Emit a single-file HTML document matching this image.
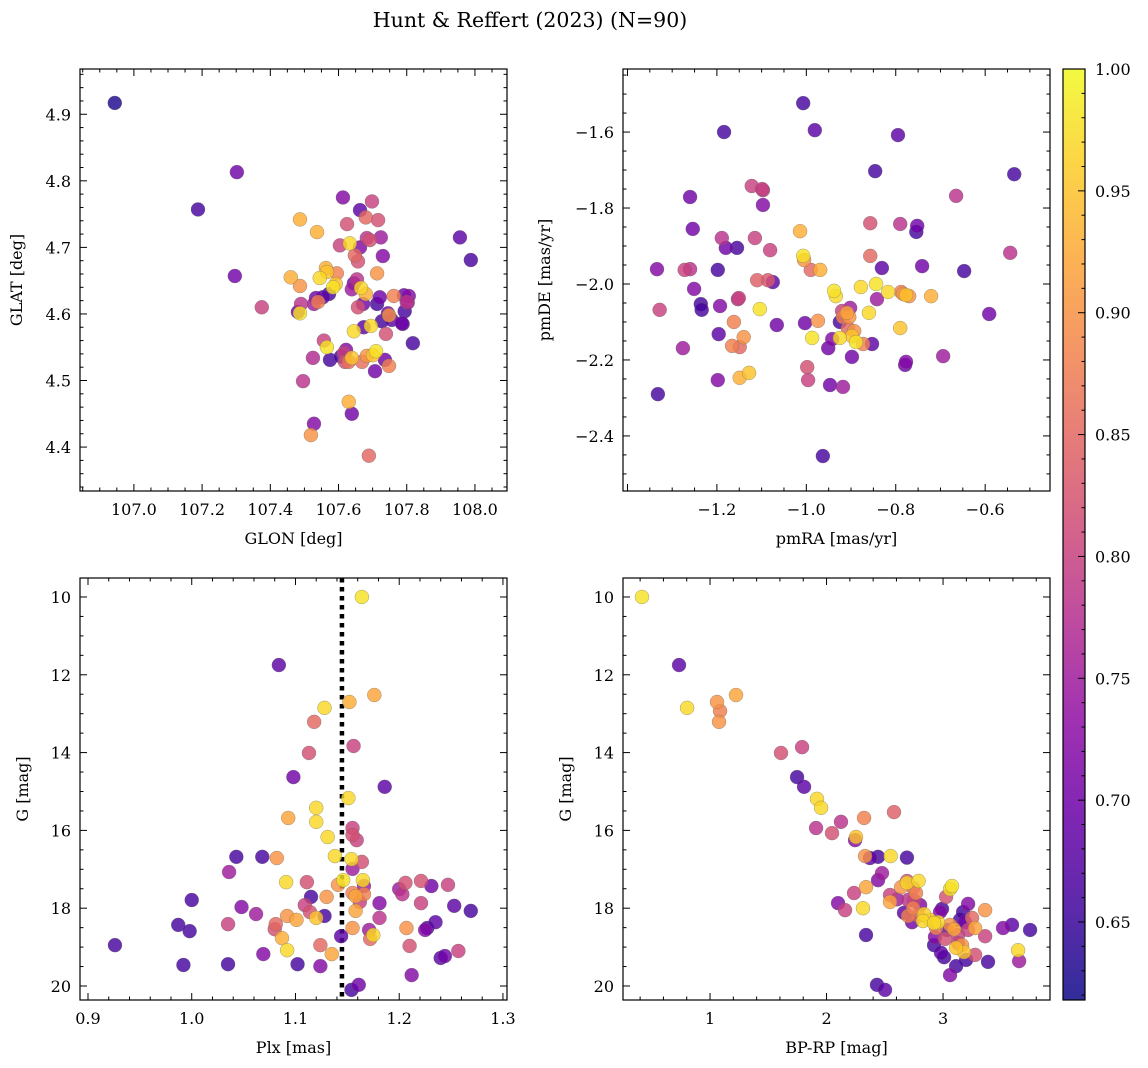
<!DOCTYPE html>
<html><head><meta charset="utf-8">
<style>
html,body{margin:0;padding:0;background:#fff;}
svg{display:block;font-family:"DejaVu Serif","Liberation Serif",serif;}
</style></head>
<body>
<svg id="fig" width="1148" height="1068" viewBox="0 0 1148 1068" xmlns="http://www.w3.org/2000/svg">
<defs>
<linearGradient id="cbgrad" x1="0" y1="1" x2="0" y2="0">
<stop offset="0" stop-color="#0d0887"/><stop offset="0.1" stop-color="#41049d"/><stop offset="0.2" stop-color="#6a00a8"/><stop offset="0.3" stop-color="#8f0da4"/><stop offset="0.4" stop-color="#b12a90"/><stop offset="0.5" stop-color="#cc4778"/><stop offset="0.6" stop-color="#e16462"/><stop offset="0.7" stop-color="#f2844b"/><stop offset="0.8" stop-color="#fca636"/><stop offset="0.9" stop-color="#fcce25"/><stop offset="1" stop-color="#f0f921"/>
</linearGradient>
</defs>
<text x="530" y="27" font-size="20.5" text-anchor="middle">Hunt &amp; Reffert (2023) (N=90)</text>
</svg>
<script>
// ---- data: [x, y, membership probability] ----
const skyPoints = [[106.944,4.917,0.63],[107.188,4.757,0.66],[107.302,4.813,0.70],[107.296,4.657,0.70],[107.375,4.610,0.80],[107.487,4.742,0.93],[107.537,4.723,0.93],[107.460,4.655,0.93],[107.487,4.642,0.90],[107.481,4.603,0.70],[107.487,4.601,0.98],[107.490,4.615,0.78],[107.496,4.499,0.78],[107.528,4.435,0.72],[107.519,4.418,0.90],[107.528,4.615,0.75],[107.534,4.624,0.70],[107.540,4.618,0.88],[107.545,4.654,0.97],[107.554,4.625,0.68],[107.563,4.669,0.93],[107.572,4.630,0.66],[107.566,4.663,0.95],[107.584,4.640,0.98],[107.592,4.645,0.95],[107.595,4.661,0.88],[107.604,4.703,0.80],[107.613,4.775,0.72],[107.625,4.735,0.82],[107.622,4.546,0.72],[107.633,4.706,0.97],[107.639,4.637,0.75],[107.645,4.646,0.70],[107.648,4.688,0.85],[107.654,4.652,0.78],[107.657,4.610,0.82],[107.557,4.560,0.80],[107.566,4.550,0.98],[107.575,4.531,0.66],[107.607,4.536,0.66],[107.525,4.534,0.77],[107.616,4.541,0.80],[107.619,4.528,0.82],[107.630,4.468,0.93],[107.639,4.450,0.70],[107.630,4.528,0.86],[107.645,4.574,0.97],[107.639,4.534,0.95],[107.657,4.679,0.82],[107.663,4.700,0.72],[107.666,4.639,0.97],[107.672,4.615,0.70],[107.674,4.580,0.68],[107.669,4.528,0.86],[107.680,4.630,0.93],[107.683,4.537,0.90],[107.663,4.756,0.68],[107.680,4.745,0.85],[107.683,4.714,0.78],[107.698,4.769,0.80],[107.692,4.711,0.82],[107.695,4.582,0.97],[107.701,4.538,0.95],[107.707,4.514,0.70],[107.710,4.544,0.98],[107.713,4.661,0.90],[107.713,4.615,0.66],[107.716,4.741,0.82],[107.721,4.625,0.70],[107.724,4.715,0.75],[107.727,4.589,0.66],[107.730,4.687,0.72],[107.736,4.531,0.70],[107.739,4.570,0.82],[107.745,4.601,0.70],[107.748,4.522,0.88],[107.748,4.598,0.90],[107.762,4.627,0.88],[107.756,4.591,0.68],[107.786,4.586,0.70],[107.792,4.628,0.70],[107.794,4.604,0.66],[107.800,4.618,0.78],[107.788,4.585,0.66],[107.818,4.556,0.66],[107.689,4.387,0.85],[107.803,4.617,0.75],[107.806,4.627,0.72],[107.956,4.715,0.68],[107.988,4.681,0.66]];
const pmPoints = [[-1.332,-2.290,0.66],[-1.334,-1.961,0.72],[-1.328,-2.068,0.80],[-1.276,-2.169,0.75],[-1.272,-1.963,0.80],[-1.260,-1.961,0.78],[-1.251,-2.013,0.72],[-1.254,-1.855,0.70],[-1.260,-1.771,0.70],[-1.236,-2.053,0.66],[-1.234,-2.068,0.66],[-1.196,-2.132,0.68],[-1.198,-2.253,0.72],[-1.193,-2.058,0.72],[-1.198,-1.963,0.66],[-1.189,-1.879,0.78],[-1.184,-1.600,0.66],[-1.180,-1.905,0.70],[-1.166,-2.163,0.88],[-1.162,-2.100,0.88],[-1.155,-1.905,0.66],[-1.153,-2.040,0.78],[-1.151,-2.037,0.80],[-1.149,-2.166,0.85],[-1.149,-2.247,0.93],[-1.140,-2.140,0.90],[-1.128,-2.234,0.95],[-1.122,-1.742,0.80],[-1.115,-1.879,0.80],[-1.110,-1.990,0.84],[-1.104,-2.066,0.98],[-1.099,-1.750,0.80],[-1.097,-1.792,0.72],[-1.097,-1.753,0.78],[-1.086,-1.990,0.83],[-1.081,-1.911,0.80],[-1.066,-2.108,0.70],[-1.075,-1.995,0.68],[-1.014,-1.861,0.93],[-1.007,-1.524,0.66],[-1.007,-1.926,0.98],[-1.005,-1.937,0.90],[-1.003,-2.103,0.70],[-0.998,-2.219,0.82],[-0.996,-2.253,0.80],[-0.990,-1.963,0.85],[-0.987,-2.142,0.98],[-0.981,-1.595,0.68],[-0.974,-2.097,0.90],[-0.969,-1.963,0.93],[-0.963,-2.453,0.66],[-0.951,-2.169,0.70],[-0.947,-2.266,0.70],[-0.942,-2.145,0.72],[-0.938,-2.018,0.98],[-0.934,-2.032,0.97],[-0.925,-2.142,0.97],[-0.925,-2.100,0.66],[-0.918,-2.271,0.75],[-0.920,-2.071,0.80],[-0.918,-2.087,0.88],[-0.909,-2.076,0.92],[-0.907,-2.116,0.85],[-0.904,-2.087,0.90],[-0.902,-2.063,0.75],[-0.898,-2.137,0.95],[-0.893,-2.124,0.90],[-0.889,-2.153,0.98],[-0.878,-2.008,0.97],[-0.898,-2.192,0.70],[-0.873,-2.158,0.88],[-0.860,-2.076,0.97],[-0.857,-1.840,0.82],[-0.857,-1.926,0.85],[-0.853,-2.158,0.68],[-0.846,-1.703,0.66],[-0.844,-2.000,0.98],[-0.842,-2.040,0.75],[-0.831,-1.958,0.68],[-0.817,-2.021,0.97],[-0.795,-1.608,0.68],[-0.790,-1.842,0.78],[-0.790,-2.116,0.95],[-0.788,-2.021,0.88],[-0.784,-2.026,0.90],[-0.777,-2.029,0.95],[-0.777,-2.205,0.72],[-0.779,-2.213,0.70],[-0.770,-2.032,0.90],[-0.752,-1.847,0.70],[-0.754,-1.863,0.66],[-0.741,-1.953,0.70],[-0.721,-2.032,0.93],[-0.694,-2.190,0.75],[-0.665,-1.768,0.78],[-0.647,-1.966,0.66],[-0.591,-2.079,0.70],[-0.544,-1.918,0.78],[-0.535,-1.711,0.66]];
const plxPoints = [[1.164,10.00,0.98],[1.084,11.75,0.68],[1.128,12.85,0.97],[1.152,12.70,0.93],[1.176,12.52,0.92],[1.118,13.21,0.85],[1.113,14.01,0.82],[1.156,13.83,0.80],[1.098,14.63,0.70],[1.120,15.42,0.97],[1.120,15.78,0.97],[1.151,15.17,0.97],[1.131,16.17,0.97],[1.155,15.94,0.80],[1.155,16.12,0.82],[1.159,16.25,0.80],[1.186,14.88,0.68],[1.164,16.81,0.82],[1.138,16.66,0.97],[1.093,15.68,0.92],[1.043,16.68,0.66],[1.068,16.68,0.66],[1.082,16.71,0.90],[1.036,17.07,0.75],[1.091,17.33,0.97],[1.111,17.33,0.82],[1.115,17.71,0.66],[1.141,17.40,0.90],[1.146,17.28,0.98],[1.154,16.74,0.97],[1.155,16.99,0.75],[1.165,17.28,0.97],[1.158,17.69,0.92],[1.155,17.61,0.88],[1.162,17.84,0.80],[1.166,17.43,0.75],[1.166,17.64,0.88],[1.181,17.87,0.72],[1.181,18.25,0.78],[1.171,18.56,0.75],[1.175,18.69,0.97],[1.200,17.51,0.75],[1.203,17.64,0.78],[1.206,17.35,0.82],[1.221,17.30,0.82],[1.231,17.43,0.70],[1.221,17.87,0.80],[1.247,17.40,0.80],[1.207,18.51,0.90],[1.227,18.51,0.66],[1.225,18.56,0.72],[1.235,18.36,0.68],[1.240,19.28,0.68],[1.244,19.23,0.70],[1.257,19.10,0.80],[1.253,17.94,0.68],[1.269,18.07,0.66],[0.926,18.95,0.66],[0.987,18.43,0.66],[1.000,17.79,0.66],[0.998,18.59,0.66],[0.992,19.46,0.66],[1.035,19.44,0.66],[1.035,18.41,0.80],[1.048,17.97,0.72],[1.062,18.15,0.75],[1.069,19.18,0.72],[1.081,18.41,0.85],[1.087,18.77,0.93],[1.092,18.20,0.90],[1.080,18.54,0.82],[1.102,19.44,0.66],[1.109,17.92,0.80],[1.092,19.08,0.97],[1.114,18.10,0.82],[1.120,18.25,0.95],[1.124,18.95,0.85],[1.124,19.49,0.72],[1.128,18.20,0.66],[1.130,17.71,0.90],[1.135,19.18,0.92],[1.144,18.72,0.68],[1.154,20.10,0.66],[1.161,19.97,0.70],[1.155,18.51,0.90],[1.158,18.07,0.92],[1.212,19.72,0.72],[1.210,18.97,0.82],[1.172,18.79,0.85],[1.101,18.30,0.92]];
const cmdPoints = [[0.416,10.00,0.98],[0.734,11.75,0.68],[0.803,12.85,0.97],[1.060,12.70,0.90],[1.086,12.93,0.88],[1.223,12.52,0.92],[1.077,13.21,0.90],[1.609,14.01,0.82],[1.790,13.86,0.80],[1.747,14.63,0.66],[1.807,14.88,0.68],[1.918,15.19,0.97],[1.953,15.42,0.97],[1.910,15.94,0.78],[2.047,16.07,0.82],[2.124,15.78,0.78],[2.253,16.17,0.95],[2.245,16.25,0.72],[2.322,15.68,0.88],[2.579,15.53,0.84],[2.373,16.71,0.68],[2.442,17.28,0.72],[2.442,16.68,0.66],[2.339,17.46,0.92],[2.331,16.66,0.90],[2.313,18.00,0.97],[2.236,17.61,0.80],[2.099,17.87,0.72],[2.159,18.05,0.80],[2.550,16.66,0.97],[2.339,18.69,0.66],[2.476,17.10,0.75],[2.690,16.70,0.66],[2.545,17.66,0.80],[2.605,17.77,0.75],[2.640,17.46,0.90],[2.691,17.30,0.82],[2.743,17.48,0.85],[2.768,17.61,0.88],[2.700,17.79,0.78],[2.803,17.92,0.72],[2.665,18.12,0.68],[2.734,18.36,0.70],[2.700,18.20,0.88],[2.790,18.20,0.85],[2.690,17.35,0.97],[2.750,17.80,0.80],[2.790,17.30,0.97],[2.545,17.84,0.92],[2.743,18.00,0.88],[2.828,18.33,0.97],[2.837,18.15,0.96],[2.888,18.30,0.95],[2.957,18.36,0.97],[2.923,18.38,0.97],[2.940,18.51,0.88],[2.974,18.10,0.72],[2.991,18.02,0.66],[3.026,17.71,0.82],[3.060,17.51,0.97],[3.077,17.43,0.98],[3.060,18.43,0.90],[3.094,18.54,0.92],[3.129,18.69,0.80],[2.931,18.74,0.72],[2.983,19.15,0.68],[3.034,18.56,0.68],[3.146,18.30,0.66],[3.172,18.10,0.66],[3.215,17.89,0.72],[3.249,18.25,0.85],[3.275,18.51,0.92],[3.189,18.36,0.70],[3.215,18.56,0.80],[3.129,18.90,0.80],[3.163,18.95,0.90],[3.180,19.13,0.95],[3.198,19.33,0.66],[3.275,19.20,0.82],[3.361,18.05,0.90],[3.361,18.72,0.80],[3.386,19.38,0.66],[3.515,18.51,0.72],[3.592,18.43,0.68],[3.644,19.08,0.97],[3.653,19.36,0.75],[3.747,18.56,0.66],[2.923,18.95,0.66],[3.009,19.26,0.66],[3.060,19.72,0.72],[3.112,19.49,0.66],[3.017,18.79,0.82],[3.112,19.02,0.95],[2.433,19.97,0.66],[2.502,20.10,0.68]];
const plxMean = 1.1448;
const cbTicks = [0.65,0.70,0.75,0.80,0.85,0.90,0.95,1.00];
const vmin = 0.618, vmax = 1.0;

const NS = "http://www.w3.org/2000/svg";
const fig = document.getElementById('fig');
function mk(tag, attrs, parent){const e=document.createElementNS(NS,tag);for(const k in attrs)e.setAttribute(k,attrs[k]);(parent||fig).appendChild(e);return e;}
const stops=[[0,[13,8,135]],[0.1,[65,4,157]],[0.2,[106,0,168]],[0.3,[143,13,164]],[0.4,[177,42,144]],[0.5,[204,71,120]],[0.6,[225,100,98]],[0.7,[242,132,75]],[0.8,[252,166,54]],[0.9,[252,206,37]],[1,[240,249,33]]];
function plasma(v){let t=Math.max(0,Math.min(1,(v-vmin)/(vmax-vmin)));for(let i=1;i<stops.length;i++){if(t<=stops[i][0]){const a=stops[i-1],b=stops[i];const f=(t-a[0])/(b[0]-a[0]);const c=a[1].map((x,j)=>Math.round(x+(b[1][j]-x)*f));return `rgb(${c[0]},${c[1]},${c[2]})`;}}return 'rgb(240,249,33)';}

function panel(cfg){
  const {x0,y0,w,h,xr,yr,inv,xMaj,xMin,yMaj,yMin,xFmt,yFmt,xlabel,ylabel,pts,name}=cfg;
  const g=mk('g',{});
  
  
  const sx=v=>x0+(v-xr[0])/(xr[1]-xr[0])*w;
  const sy=inv? v=>y0+(v-yr[0])/(yr[1]-yr[0])*h : v=>y0+h-(v-yr[0])/(yr[1]-yr[0])*h;
  const clip=mk('clipPath',{id:'clip-'+name},g);
  mk('rect',{x:x0,y:y0,width:w,height:h},clip);
  const pg=mk('g',{'clip-path':`url(#clip-${name})`},g);
  if(cfg.vline!==undefined){
    const l=mk('line',{x1:sx(cfg.vline),x2:sx(cfg.vline),y1:y0,y2:y0+h,stroke:'#000','stroke-width':4.5,'stroke-dasharray':'4.5,4.5'},pg);
    
    
  }
  const sorted=pts.slice().sort((a,b)=>a[2]-b[2]);
  for(const p of sorted){
    const c=mk('circle',{cx:sx(p[0]),cy:sy(p[1]),r:7,fill:plasma(p[2]),'fill-opacity':0.82,stroke:'#666','stroke-opacity':0.6,'stroke-width':0.5},pg);
    
    
  }
  mk('rect',{x:x0,y:y0,width:w,height:h,fill:'none',stroke:'#000','stroke-width':1.2},g);
  const eps=1e-9;
  const xs=Math.ceil(xr[0]/xMin-eps), xe=Math.floor(xr[1]/xMin+eps);
  for(let i=xs;i<=xe;i++){const v=i*xMin;const major=Math.abs(v/xMaj-Math.round(v/xMaj))<1e-6;const L=major?7:3.5;const X=sx(v);
    mk('line',{x1:X,x2:X,y1:y0+h,y2:y0+h-L,stroke:'#000','stroke-width':1},g);
    mk('line',{x1:X,x2:X,y1:y0,y2:y0+L,stroke:'#000','stroke-width':1},g);
    if(major && X-x0>6.5){const t=mk('text',{x:X,y:y0+h+24,'font-size':16,'text-anchor':'middle'},g);t.textContent=xFmt(v);
      
      }
  }
  const ys=Math.ceil(yr[0]/yMin-eps), ye=Math.floor(yr[1]/yMin+eps);
  for(let i=ys;i<=ye;i++){const v=i*yMin;const major=Math.abs(v/yMaj-Math.round(v/yMaj))<1e-6;const L=major?7:3.5;const Y=sy(v);
    mk('line',{x1:x0,x2:x0+L,y1:Y,y2:Y,stroke:'#000','stroke-width':1},g);
    mk('line',{x1:x0+w,x2:x0+w-L,y1:Y,y2:Y,stroke:'#000','stroke-width':1},g);
    if(major){const t=mk('text',{x:x0-9,y:Y+6,'font-size':16,'text-anchor':'end'},g);t.textContent=yFmt(v);
      
      }
  }
  const xl=mk('text',{x:x0+w/2,y:y0+h+53,'font-size':16,'text-anchor':'middle'},g);xl.textContent=xlabel;
  
  
  const yx=cfg.ylx;
  const yl=mk('text',{x:yx,y:y0+h/2,'font-size':16,'text-anchor':'middle',transform:`rotate(-90 ${yx} ${y0+h/2})`},g);yl.textContent=ylabel;
  
  
}
const m=v=>v<0?'\u2212'+Math.abs(v).toFixed(1):v.toFixed(1);
panel({name:'sky',x0:80,y0:69,w:427,h:422,xr:[106.842,108.094],yr:[4.334,4.968],xMaj:0.2,xMin:0.05,yMaj:0.1,yMin:0.02,xFmt:v=>v.toFixed(1),yFmt:v=>v.toFixed(1),xlabel:'GLON [deg]',ylabel:'GLAT [deg]',ylx:22,pts:skyPoints});
panel({name:'pm',x0:623,y0:69,w:427,h:422,xr:[-1.410,-0.455],yr:[-2.545,-1.434],xMaj:0.2,xMin:0.05,yMaj:0.2,yMin:0.05,xFmt:m,yFmt:m,xlabel:'pmRA [mas/yr]',ylabel:'pmDE [mas/yr]',ylx:550,pts:pmPoints});
panel({name:'plx',x0:80,y0:578,w:427,h:422,xr:[0.8923,1.3039],yr:[9.512,20.36],inv:true,xMaj:0.1,xMin:0.02,yMaj:2,yMin:0.5,xFmt:v=>v.toFixed(1),yFmt:v=>v.toFixed(0),xlabel:'Plx [mas]',ylabel:'G [mag]',ylx:28,pts:plxPoints,vline:plxMean});
panel({name:'cmd',x0:623,y0:578,w:427,h:422,xr:[0.253,3.918],yr:[9.512,20.36],inv:true,xMaj:1,xMin:0.2,yMaj:2,yMin:0.5,xFmt:v=>v.toFixed(0),yFmt:v=>v.toFixed(0),xlabel:'BP-RP [mag]',ylabel:'G [mag]',ylx:571,pts:cmdPoints});

const cb=mk('g',{});


const cx0=1063,cy0=69,cw=22,ch=931;
mk('rect',{x:cx0,y:cy0,width:cw,height:ch,fill:'url(#cbgrad)','fill-opacity':0.85},cb);
mk('rect',{x:cx0,y:cy0,width:cw,height:ch,fill:'none',stroke:'#000','stroke-width':1.2},cb);
const cyv=v=>cy0+ch-(v-vmin)/(vmax-vmin)*ch;
for(let i=62;i<=100;i++){const v=i/100;const Y=cyv(v);const maj=i%5===0;
  mk('line',{x1:cx0+cw,x2:cx0+cw-(maj?7:3.5),y1:Y,y2:Y,stroke:'#000','stroke-width':1},cb);}
for(const v of cbTicks){const t=mk('text',{x:cx0+cw+10,y:cyv(v)+6,'font-size':16},cb);t.textContent=v.toFixed(2);
  
  }
</script>
</body></html>
